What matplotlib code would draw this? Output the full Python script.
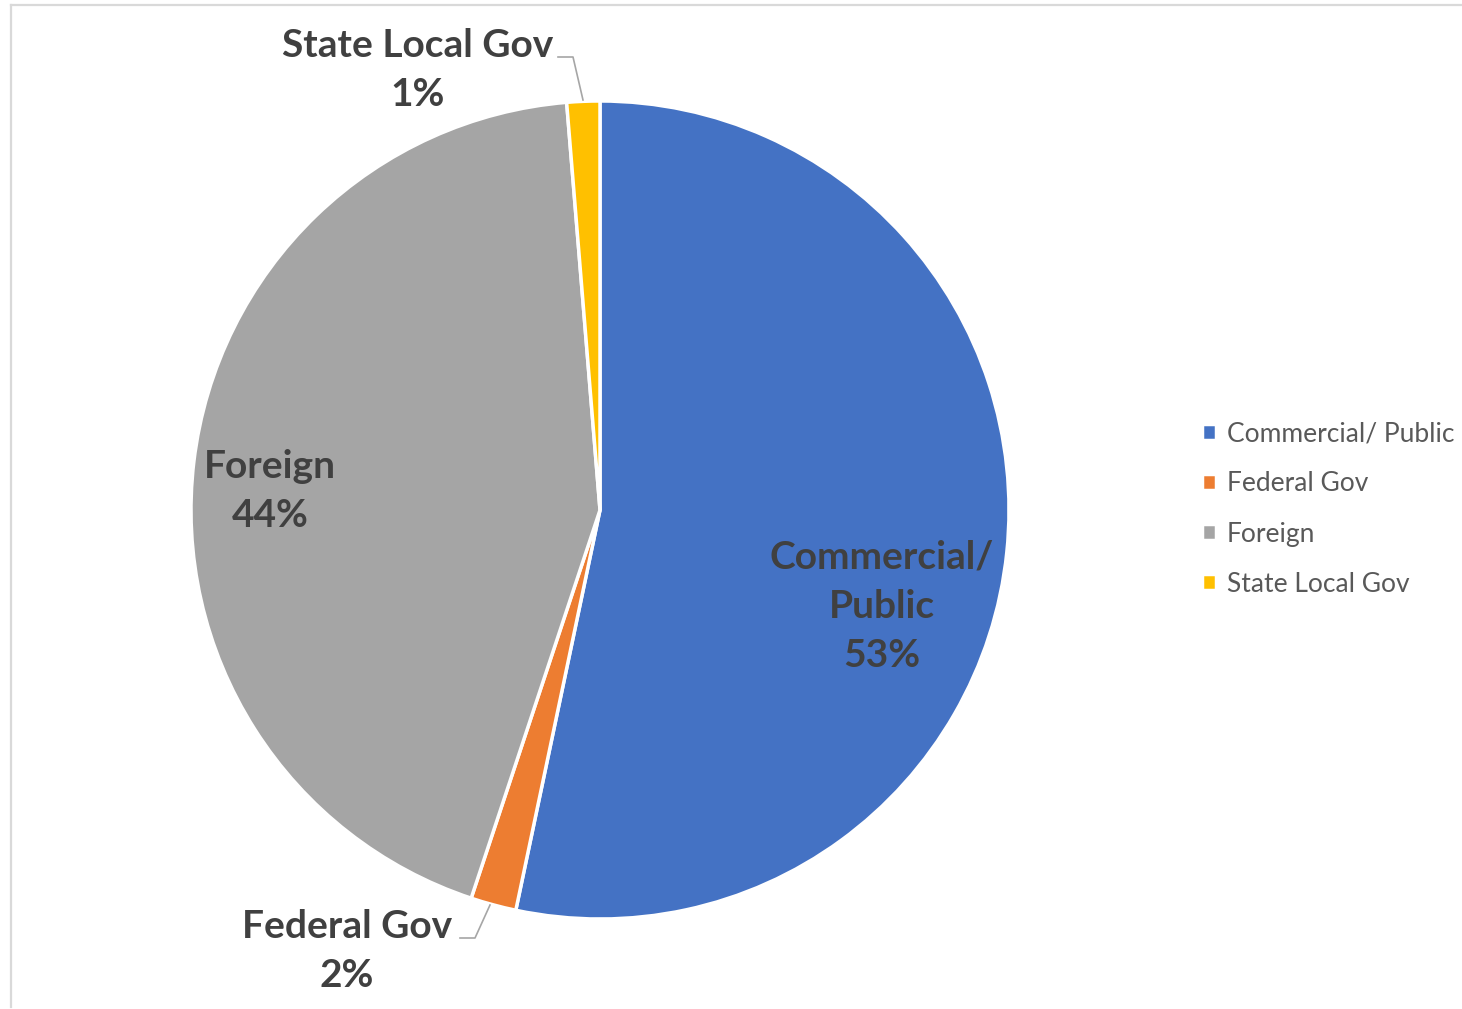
import matplotlib.pyplot as plt
from matplotlib.lines import Line2D

plt.rcParams['font.family'] = ['Lato', 'DejaVu Sans']

# share of contracts by customer type (percent)
categories = ['Commercial/ Public', 'Federal Gov', 'Foreign', 'State Local Gov']
shares = [53.3, 1.8, 43.6, 1.3]
colors = ['#4472C4', '#ED7D31', '#A5A5A5', '#FFC000']

W, H = 1462, 1009
fig = plt.figure(figsize=(W / 100, H / 100), dpi=100)
ax = fig.add_axes([0, 0, 1, 1])

cx, cy, r = 600, H - 510, 409
wedges, _ = ax.pie(shares, colors=colors, startangle=90, counterclock=False,
                   center=(cx, cy), radius=r, frame=True,
                   wedgeprops=dict(edgecolor='white', linewidth=2.5))
ax.set_xlim(0, W)
ax.set_ylim(0, H)
ax.axis('off')

pct = ['%.0f%%' % s for s in shares]
lab_kw = dict(fontsize=28, fontweight='bold', color='#404040',
              ha='center', va='center', linespacing=1.5)

# data labels (pixel positions, y measured from top)
ax.text(882, H - 606, 'Commercial/\nPublic\n' + pct[0], **lab_kw)
ax.text(270, H - 491, 'Foreign\n' + pct[2], **lab_kw)
ax.text(347, H - 951, 'Federal Gov\n' + pct[1], **lab_kw)
ax.text(418, H - 70, 'State Local Gov\n' + pct[3], **lab_kw)

# leader lines for the small slices
lead = dict(color='#A6A6A6', lw=1.2)
ax.plot([460, 475, 490], [H - 938, H - 938, H - 905], **lead)
ax.plot([558, 573, 583], [H - 57, H - 57, H - 100], **lead)

leg = fig.legend(wedges, categories, loc='center left',
                 bbox_to_anchor=(1178 / W, 1 - 509 / H), frameon=False,
                 fontsize=19, handlelength=0.55, handleheight=0.55,
                 handletextpad=0.4, labelspacing=0.95)
for t in leg.get_texts():
    t.set_color('#595959')

# chart-area border
border = dict(color='#D9D9D9', lw=1.6, transform=fig.transFigure)
fig.add_artist(Line2D([11 / W, 1], [1 - 5 / H, 1 - 5 / H], **border))
fig.add_artist(Line2D([11 / W, 11 / W], [1 - 5 / H, 1 - 1007 / H], **border))

fig.savefig('out.png', dpi=100, facecolor='white')
